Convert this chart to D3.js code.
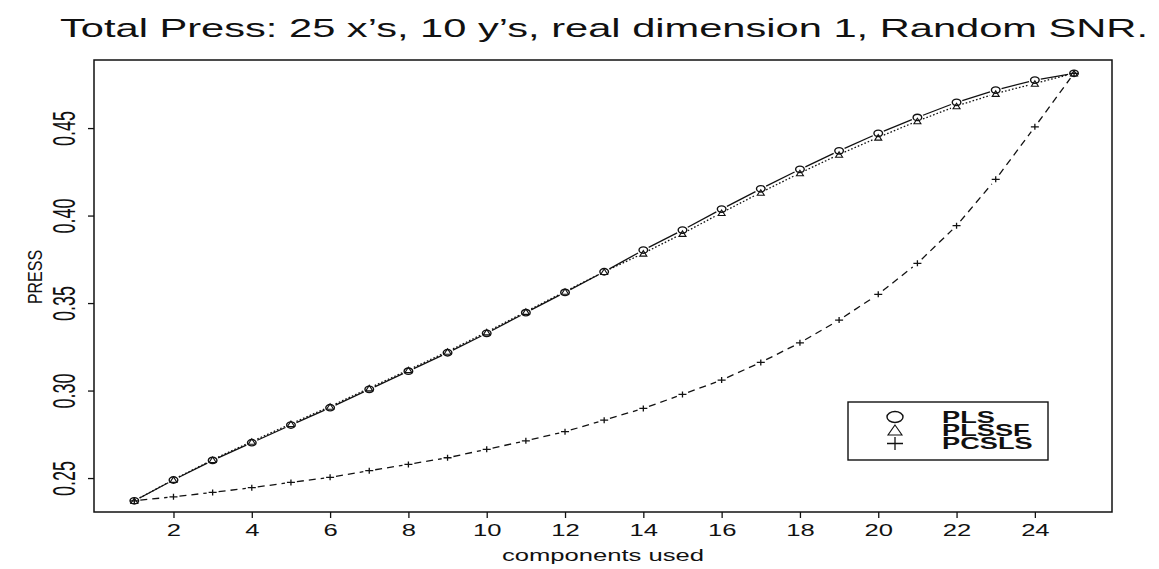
<!DOCTYPE html>
<html>
<head>
<meta charset="utf-8">
<script src="https://cdn.jsdelivr.net/npm/d3@7"></script>
<style>
  body { margin: 0; background: #fff; }
  svg { display: block; font-family: "Liberation Sans", Arial, Helvetica, sans-serif; }
</style>
</head>
<body>
<div id="chart"></div>
<script>
// values
const components = [1, 2, 3, 4, 5, 6, 7, 8, 9, 10, 11, 12, 13, 14, 15, 16, 17, 18, 19, 20, 21, 22, 23, 24, 25];
const pls = [0.2370, 0.2489, 0.2601, 0.2702, 0.2803, 0.2902, 0.3007, 0.3111, 0.3216, 0.3327, 0.3445, 0.3561, 0.3679,
  0.3803, 0.3917, 0.4037, 0.4153, 0.4264, 0.4370, 0.4470, 0.4561, 0.4647, 0.4717, 0.4774, 0.4813];
const plssf = [0.2370, 0.2491, 0.2605, 0.2709, 0.2810, 0.2909, 0.3014, 0.3118, 0.3223, 0.3334, 0.3451, 0.3566, 0.3679,
  0.3784, 0.3897, 0.4016, 0.4132, 0.4243, 0.4349, 0.4447, 0.4540, 0.4626, 0.4697, 0.4755, 0.4813];
const pcsls = [0.2370, 0.2393, 0.2418, 0.2445, 0.2475, 0.2504, 0.2542, 0.2578, 0.2616, 0.2664, 0.2713, 0.2765, 0.2831,
  0.2898, 0.2978, 0.3060, 0.3161, 0.3273, 0.3403, 0.3550, 0.3727, 0.3942, 0.4207, 0.4507, 0.4813];
const seriesNames = ["PLS", "PLSSF", "PCSLS"];
const xTicks = [2, 4, 6, 8, 10, 12, 14, 16, 18, 20, 22, 24];
const yTicks = [0.25, 0.30, 0.35, 0.40, 0.45];
const yTickLabels = ["0.25", "0.30", "0.35", "0.40", "0.45"];

const W = 1159, H = 569;
const margin = {top: 60, right: 47, bottom: 57, left: 94},
  width = W - margin.left - margin.right,
  height = H - margin.top - margin.bottom;
const stretch = 1.6; // the scan is wider than tall, text glyphs look stretched

const svg = d3.select("#chart").append("svg")
  .attr("width", W)
  .attr("height", H);

svg.append("text")
  .attr("x", 60)
  .attr("y", 37)
  .attr("font-size", 25)
  .attr("textLength", 1088)
  .attr("lengthAdjust", "spacingAndGlyphs")
  .attr("fill", "#111")
  .text("Total Press: 25 x\u2019s, 10 y\u2019s, real dimension 1, Random SNR.");

const g = svg.append("g")
  .attr("transform", "translate(" + margin.left + "," + margin.top + ")");

const xScale = d3.scaleLinear()
  .domain([-0.03, 25.97])
  .range([0, width]);

const yScale = d3.scaleLinear()
  .domain([0.2306, 0.4889])
  .range([height, 0]);

// frame
g.append("rect")
  .attr("width", width)
  .attr("height", height)
  .attr("fill", "none")
  .attr("stroke", "#111")
  .attr("stroke-width", 1.5);

// x axis
const xAxis = g.append("g")
  .attr("transform", "translate(0," + height + ")")
  .call(d3.axisBottom(xScale).tickValues(xTicks).tickSize(6).tickSizeOuter(0).tickFormat(""));
xAxis.select(".domain").remove();
xAxis.selectAll(".tick line").attr("stroke", "#111").attr("stroke-width", 1.3);
xAxis.selectAll(".tick").append("text")
  .attr("transform", "translate(0,24) scale(" + stretch + ",1)")
  .attr("text-anchor", "middle")
  .attr("font-size", 16)
  .attr("fill", "#111")
  .text(String);

// y axis
const yAxis = g.append("g")
  .call(d3.axisLeft(yScale).tickValues(yTicks).tickSize(6).tickSizeOuter(0).tickFormat(""));
yAxis.select(".domain").remove();
yAxis.selectAll(".tick line").attr("stroke", "#111").attr("stroke-width", 1.3);
yAxis.selectAll(".tick").append("text")
  .attr("transform", "translate(-19,0) scale(1.7,1) rotate(-90)")
  .attr("text-anchor", "middle")
  .attr("font-size", 18)
  .attr("fill", "#111")
  .text((d, i) => yTickLabels[i]);

svg.append("text")
  .attr("transform", "translate(42,277) scale(1.3,1) rotate(-90)")
  .attr("text-anchor", "middle")
  .attr("font-size", 16)
  .attr("fill", "#111")
  .text("PRESS");

svg.append("text")
  .attr("transform", "translate(" + (margin.left + width / 2) + ",561) scale(" + stretch + ",1)")
  .attr("text-anchor", "middle")
  .attr("font-size", 16)
  .attr("fill", "#111")
  .text("components used");

// lines drawn S-plus style (type "b"): segments stop short of each point
const gap = 6;
function drawSegments(values, dash) {
  const pts = components.map((c, i) => [xScale(c), yScale(values[i])]);
  const segs = d3.pairs(pts).map(([a, b]) => {
    const dx = b[0] - a[0], dy = b[1] - a[1], len = Math.hypot(dx, dy);
    const ux = dx / len, uy = dy / len;
    return [a[0] + ux * gap, a[1] + uy * gap, b[0] - ux * gap, b[1] - uy * gap];
  });
  g.append("g").selectAll("line")
    .data(segs)
    .enter().append("line")
    .attr("x1", d => d[0]).attr("y1", d => d[1])
    .attr("x2", d => d[2]).attr("y2", d => d[3])
    .attr("stroke", "#111")
    .attr("stroke-width", 1.3)
    .attr("stroke-dasharray", dash);
}
drawSegments(pls, null);
drawSegments(plssf, "1.6,2");
drawSegments(pcsls, "7,5");

// markers
function circleMark(sel, rx, ry) {
  sel.append("ellipse").attr("rx", rx).attr("ry", ry)
    .attr("fill", "none").attr("stroke", "#111").attr("stroke-width", 1.4);
}
function triangleMark(sel, w, h) {
  sel.append("path")
    .attr("d", "M0," + (-h / 2) + "L" + (w / 2) + "," + (h / 2) + "L" + (-w / 2) + "," + (h / 2) + "Z")
    .attr("fill", "none").attr("stroke", "#111").attr("stroke-width", 1.1);
}
function plusMark(sel, w, h) {
  sel.append("path")
    .attr("d", "M" + (-w / 2) + ",0H" + (w / 2) + "M0," + (-h / 2) + "V" + (h / 2))
    .attr("fill", "none").attr("stroke", "#111").attr("stroke-width", 1.3);
}

const markers = [
  {values: pls, draw: sel => circleMark(sel, 4.3, 3.2)},
  {values: plssf, draw: sel => triangleMark(sel, 7, 5.5)},
  {values: pcsls, draw: sel => plusMark(sel, 8, 6)}
];
markers.forEach(m => {
  const pg = g.append("g").selectAll("g")
    .data(components)
    .enter().append("g")
    .attr("transform", (c, i) => "translate(" + xScale(c) + "," + yScale(m.values[i]) + ")");
  m.draw(pg);
});

// legend
const legend = svg.append("g");
legend.append("rect")
  .attr("x", 848).attr("y", 402)
  .attr("width", 200).attr("height", 58)
  .attr("fill", "#fff")
  .attr("stroke", "#111")
  .attr("stroke-width", 1.4);
const legendRows = [
  {y: 417, draw: sel => circleMark(sel, 8, 5.5)},
  {y: 430, draw: sel => triangleMark(sel, 14, 10)},
  {y: 443.5, draw: sel => plusMark(sel, 16, 13)}
];
legendRows.forEach((r, i) => {
  const s = legend.append("g").attr("transform", "translate(895," + r.y + ")");
  r.draw(s);
  legend.append("text")
    .attr("transform", "translate(942," + (r.y + 5.5) + ") scale(" + stretch + ",1)")
    .attr("font-size", 17)
    .attr("font-weight", "bold")
    .attr("fill", "#111")
    .text(seriesNames[i]);
});
</script>
</body>
</html>
